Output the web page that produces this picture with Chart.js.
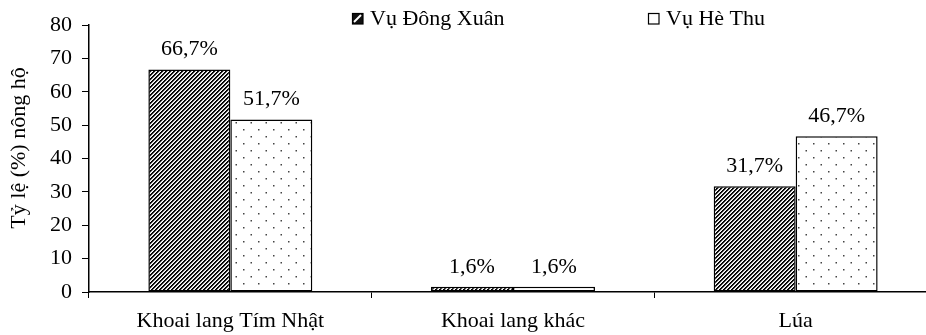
<!DOCTYPE html>
<html>
<head>
<meta charset="utf-8">
<script src="https://cdn.jsdelivr.net/npm/chart.js@4/dist/chart.umd.min.js"></script>
<style>
  html, body { margin: 0; padding: 0; background: #fff; overflow: hidden; }
  #wrap { width: 940px; height: 335px; }
</style>
</head>
<body>
<div id="wrap"><canvas id="c" width="940" height="335"></canvas></div>
<script>
// Share of households (%) growing each crop, per season
const categories = ['Khoai lang Tím Nhật', 'Khoai lang khác', 'Lúa'];
const seriesNames = ['Vụ Đông Xuân', 'Vụ Hè Thu'];
const dongXuan = [66.7, 1.6, 31.7];
const heThu = [51.7, 1.6, 46.7];
const yTitle = 'Tỷ lệ (%) nông hộ';

const FONT = '"Liberation Serif", "Times New Roman", serif';
const SIZE = 22;

// Dense diagonal hatching ("/") for the winter-spring season
function hatchPattern(ctx) {
  const t = document.createElement('canvas');
  t.width = 4; t.height = 4;
  const g = t.getContext('2d');
  const img = g.createImageData(4, 4);
  const shade = [0, 20, 200, 255];
  for (let y = 0; y < 4; y++) {
    for (let x = 0; x < 4; x++) {
      const v = shade[(x + y) % 4];
      const i = (y * 4 + x) * 4;
      img.data[i] = img.data[i + 1] = img.data[i + 2] = v;
      img.data[i + 3] = 255;
    }
  }
  g.putImageData(img, 0, 0);
  return ctx.createPattern(t, 'repeat');
}

// Sparse staggered dots for the summer-autumn season
function dotPattern(ctx) {
  const t = document.createElement('canvas');
  t.width = 15; t.height = 14;
  const g = t.getContext('2d');
  g.fillStyle = '#fff';
  g.fillRect(0, 0, 15, 14);
  g.fillStyle = '#444';
  g.fillRect(3, 3, 1.5, 1.5);
  g.fillRect(10.5, 10, 1.5, 1.5);
  return ctx.createPattern(t, 'repeat');
}

const canvas = document.getElementById('c');
const ctx = canvas.getContext('2d');
const hatch = hatchPattern(ctx);
const dots = dotPattern(ctx);

function fmt(v) {
  return v.toFixed(1).replace('.', ',') + '%';
}

// Value labels above each bar
const valueLabels = {
  id: 'valueLabels',
  afterDatasetsDraw(chart) {
    const c = chart.ctx;
    c.save();
    c.font = SIZE + 'px ' + FONT;
    c.fillStyle = '#000';
    c.textAlign = 'center';
    c.textBaseline = 'alphabetic';
    chart.data.datasets.forEach((ds, di) => {
      chart.getDatasetMeta(di).data.forEach((bar, i) => {
        c.fillText(fmt(ds.data[i]), bar.x, bar.y - 14);
      });
    });
    c.restore();
  }
};

// Rotated y-axis title at the left edge
const yAxisTitle = {
  id: 'yAxisTitle',
  afterDraw(chart) {
    const c = chart.ctx;
    c.save();
    c.translate(19, 148);
    c.rotate(-Math.PI / 2);
    c.font = SIZE + 'px ' + FONT;
    c.fillStyle = '#000';
    c.textAlign = 'center';
    c.textBaseline = 'middle';
    c.fillText(yTitle, 0, 0);
    c.restore();
  }
};

// Legend row across the top with patterned swatches
const topLegend = {
  id: 'topLegend',
  afterDraw(chart) {
    const c = chart.ctx;
    const items = [
      { x: 352, fill: hatch, text: seriesNames[0] },
      { x: 648, fill: dots, text: seriesNames[1] }
    ];
    c.save();
    c.font = SIZE + 'px ' + FONT;
    c.textBaseline = 'middle';
    c.textAlign = 'left';
    items.forEach(it => {
      c.fillStyle = '#fff';
      c.fillRect(it.x, 13, 11, 11);
      if (it.fill === hatch) {
        c.fillStyle = '#111';
        c.fillRect(it.x, 13, 11, 11);
        c.strokeStyle = '#fff';
        c.lineWidth = 2;
        c.beginPath();
        c.moveTo(it.x + 2, 13 + 9);
        c.lineTo(it.x + 9, 13 + 2);
        c.stroke();
      }
      c.strokeStyle = '#000';
      c.lineWidth = 1.2;
      c.strokeRect(it.x + 0.5, 13.5, 10.5, 10.5);
      c.fillStyle = '#000';
      c.fillText(it.text, it.x + 18, 19);
    });
    c.restore();
  }
};

new Chart(ctx, {
  type: 'bar',
  data: {
    labels: categories,
    datasets: [
      {
        label: seriesNames[0],
        data: dongXuan,
        backgroundColor: hatch,
        borderColor: '#000',
        borderWidth: 1.5,
        borderSkipped: false,
        categoryPercentage: 0.58,
        barPercentage: 1.0
      },
      {
        label: seriesNames[1],
        data: heThu,
        backgroundColor: dots,
        borderColor: '#000',
        borderWidth: 1.5,
        borderSkipped: false,
        categoryPercentage: 0.58,
        barPercentage: 1.0
      }
    ]
  },
  options: {
    responsive: false,
    animation: false,
    layout: { padding: { top: 25, right: 3, left: 0, bottom: 0 } },
    plugins: {
      legend: { display: false },
      tooltip: { enabled: false }
    },
    scales: {
      x: {
        afterFit(scale) { scale.height = 43; },
        grid: {
          offset: true,
          drawOnChartArea: false,
          drawTicks: true,
          tickLength: 6,
          color: '#000',
          lineWidth: 1
        },
        border: { display: true, color: '#000', width: 1.5 },
        ticks: {
          color: '#000',
          font: { family: FONT, size: SIZE },
          padding: 10,
          maxRotation: 0,
          autoSkip: false
        }
      },
      y: {
        min: 0,
        max: 80,
        afterFit(scale) { scale.width = 89; },
        grid: {
          drawOnChartArea: false,
          drawTicks: true,
          tickLength: 7,
          color: '#000',
          lineWidth: 1
        },
        border: { display: true, color: '#000', width: 1.5 },
        ticks: {
          stepSize: 10,
          color: '#000',
          font: { family: FONT, size: SIZE },
          padding: 10
        }
      }
    }
  },
  plugins: [valueLabels, yAxisTitle, topLegend]
});
</script>
</body>
</html>
